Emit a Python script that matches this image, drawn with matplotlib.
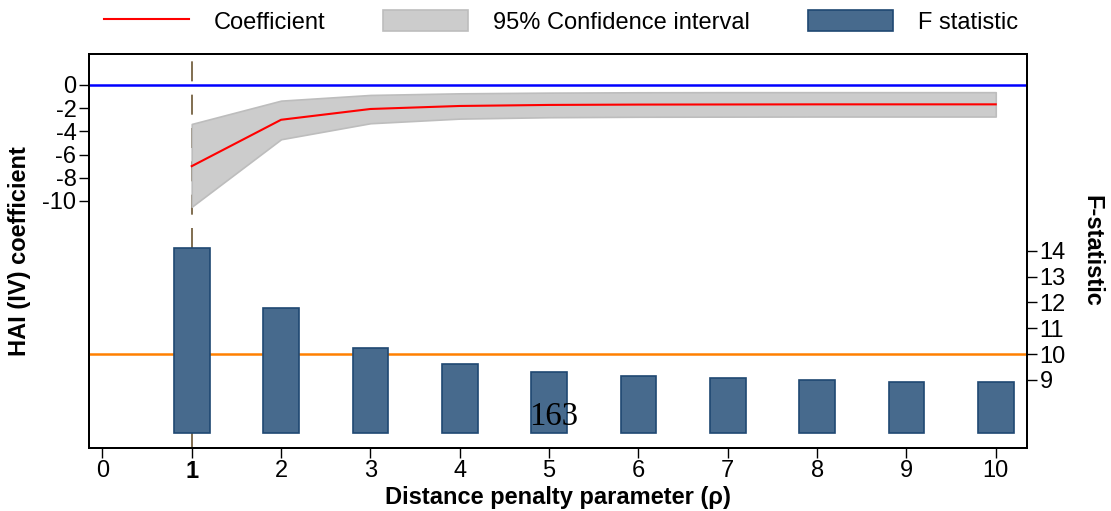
import numpy as np
import matplotlib
matplotlib.use("Agg")
from matplotlib import pyplot as plt
from matplotlib.lines import Line2D
from matplotlib.patches import Patch

plt.rcParams['font.family'] = ['Liberation Sans', 'DejaVu Sans']

# distance penalty parameter and estimates
rho = [1, 2, 3, 4, 5, 6, 7, 8, 9, 10]
coef = [-7.0, -3.0, -2.07, -1.81, -1.72, -1.69, -1.68, -1.67, -1.67, -1.67]
ci_upper = [-3.36, -1.35, -0.86, -0.72, -0.66, -0.63, -0.62, -0.62, -0.62, -0.62]
ci_lower = [-10.5, -4.68, -3.3, -2.9, -2.78, -2.74, -2.73, -2.72, -2.72, -2.72]
f_stat = [14.12, 11.78, 10.22, 9.60, 9.31, 9.14, 9.07, 8.99, 8.93, 8.90]
f_base = 6.93
f_threshold = 10

x_ticks = list(range(0, 11))
coef_ticks = [0, -2, -4, -6, -8, -10]
f_ticks = [9, 10, 11, 12, 13, 14]

bar_fill = '#476a8d'
bar_edge = '#1f4872'
fs = 17

fig = plt.figure(figsize=(11.11, 5.11), dpi=100)
ax = fig.add_axes([0.0801, 0.1233, 0.8443, 0.7710])

ax.fill_between(rho, ci_lower, ci_upper, facecolor='#cccccc', edgecolor='#bdbdbd',
                linewidth=1.2, zorder=1)
ax.plot(rho, coef, color='red', lw=1.5, zorder=2)
ax.axhline(0, color='#0000ff', lw=1.8, zorder=3)
ax.axvline(1, ymin=0, ymax=0.982, color='#6b5532', lw=1.2, linestyle=(0, (12, 8)), zorder=0)

ax.set_xlim(-0.15, 10.35)
ax.set_ylim(-31.3, 2.67)
ax.set_yticks(coef_ticks)
ax.set_yticklabels([str(t) for t in coef_ticks])
ax.set_xticks(x_ticks)
ax.set_xticklabels([str(t) for t in x_ticks])
ax.get_xticklabels()[1].set_fontweight('bold')
ax.tick_params(axis='both', labelsize=fs, length=7, width=1, direction='out', pad=2)
ax.set_ylabel('HAI (IV) coefficient', fontsize=fs, fontweight='bold', labelpad=8)
ax.set_xlabel('Distance penalty parameter (\u03c1)', fontsize=fs, fontweight='bold', labelpad=2)

ax2 = ax.twinx()
ax2.axhline(f_threshold, color='#ff8000', lw=1.8, zorder=1)
ax2.bar(rho, [v - f_base for v in f_stat], bottom=f_base, width=0.4,
        color=bar_fill, edgecolor=bar_edge, linewidth=1.2, zorder=2)
ax2.set_ylim(6.36, 21.63)
ax2.set_yticks(f_ticks)
ax2.set_yticklabels([str(t) for t in f_ticks])
ax2.tick_params(axis='y', labelsize=fs, length=7, width=1, direction='out', pad=2)
ax2.set_ylabel('F-statistic', fontsize=fs, fontweight='bold', rotation=-90, labelpad=27)

for a in (ax, ax2):
    for s in a.spines.values():
        s.set_linewidth(1.4)

handles = [
    Line2D([], [], color='red', lw=1.5),
    Patch(facecolor='#cccccc', edgecolor='#bdbdbd', linewidth=1.2),
    Patch(facecolor=bar_fill, edgecolor=bar_edge, linewidth=1.2),
]
labels = ['Coefficient', '95% Confidence interval', 'F statistic']
fig.legend(handles, labels, loc='center', bbox_to_anchor=(0.505, 0.957), ncol=3,
           frameon=False, fontsize=fs, handlelength=3.6, handleheight=1.0,
           handletextpad=1.06, columnspacing=2.46)

# page number
fig.text(554 / 1111, 1 - 417 / 511, '163', family=['Liberation Serif', 'DejaVu Serif'],
         fontsize=23.5, ha='center', va='center')

fig.savefig('out.png', dpi=100)
